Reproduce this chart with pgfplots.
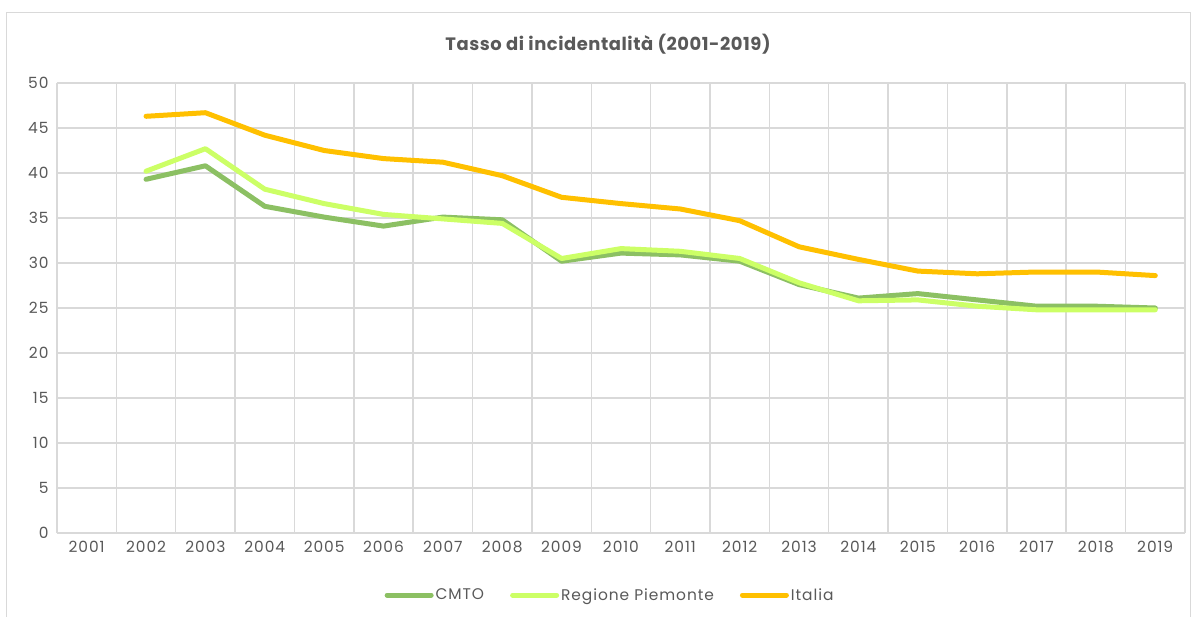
\documentclass[border=0pt]{standalone}
\usepackage{fontspec}
\setmainfont{Poppins}[LetterSpace=6]
\newfontfamily\titlefont{Poppins}[LetterSpace=3]
\usepackage{pgfplots}
\pgfplotsset{compat=1.18}
\definecolor{cmto}{HTML}{8CC063}
\definecolor{regione}{HTML}{CCFF66}
\definecolor{italia}{HTML}{FFC000}
\definecolor{gridc}{HTML}{D9D9D9}
\definecolor{txt}{HTML}{595959}
\begin{document}
\begin{tikzpicture}
\useasboundingbox (-57bp,-84bp) rectangle (1140bp,533bp);
\fill[white] (-57bp,-84bp) rectangle (1140bp,533bp);
\draw[gridc, line width=1bp] (-50bp,520bp) rectangle (1133bp,-130bp);
\begin{axis}[
  at={(0,0)}, anchor=south west,
  scale only axis, width=1128bp, height=450bp,
  xmin=2000.5, xmax=2019.5, ymin=0, ymax=50,
  ytick={0,5,...,50},
  xtick={2001,...,2019},
  xticklabels={2001,2002,2003,2004,2005,2006,2007,2008,2009,2010,2011,2012,2013,2014,2015,2016,2017,2018,2019},
  minor xtick={2000.5,2001.5,...,2019.5},
  xminorgrids=true, xmajorgrids=false, ymajorgrids=true,
  grid style={gridc, line width=1.5bp},
  minor grid style={gridc, line width=1.5bp},
  axis line style={draw=none},
  major tick length=0pt, minor tick length=0pt,
  tick style={draw=none},
  /pgf/number format/assume math mode=true,
  tick label style={font=\fontsize{15.5}{17}\selectfont, text=txt},
  yticklabel style={xshift=-5bp},
  xticklabel style={yshift=-5bp},
  legend style={at={(0.4903,-0.1378)}, anchor=center, draw=none, fill=none,
    font=\fontsize{15.5}{17}\selectfont, text=txt,
    /tikz/every even column/.append style={column sep=24bp}},
  legend columns=3,
  legend cell align=left,
  legend image code/.code={\draw[#1, line width=5bp, line cap=round] (0bp,0bp) -- (44bp,0bp);},
  every axis plot/.append style={line width=5bp, line join=round, line cap=round},
]
\addplot[cmto] coordinates {
(2002,39.3) (2003,40.8) (2004,36.3) (2005,35.1) (2006,34.1) (2007,35.1) (2008,34.8)
(2009,30.2) (2010,31.1) (2011,30.9) (2012,30.2) (2013,27.6) (2014,26.1) (2015,26.6)
(2016,25.9) (2017,25.2) (2018,25.2) (2019,25.0)};
\addlegendentry{CMTO}
\addplot[regione] coordinates {
(2002,40.2) (2003,42.7) (2004,38.2) (2005,36.6) (2006,35.4) (2007,34.9) (2008,34.4)
(2009,30.5) (2010,31.6) (2011,31.3) (2012,30.5) (2013,27.8) (2014,25.8) (2015,25.9)
(2016,25.2) (2017,24.8) (2018,24.8) (2019,24.8)};
\addlegendentry{Regione Piemonte}
\addplot[italia] coordinates {
(2002,46.3) (2003,46.7) (2004,44.2) (2005,42.5) (2006,41.6) (2007,41.2) (2008,39.7)
(2009,37.3) (2010,36.6) (2011,36.0) (2012,34.7) (2013,31.8) (2014,30.4) (2015,29.1)
(2016,28.8) (2017,29.0) (2018,29.0) (2019,28.6)};
\addlegendentry{Italia}
\end{axis}
\node[font=\titlefont\bfseries\fontsize{18}{20}\selectfont, text=txt] at (551bp,489bp) {Tasso di incidentalità (2001-2019)};
\end{tikzpicture}
\end{document}
